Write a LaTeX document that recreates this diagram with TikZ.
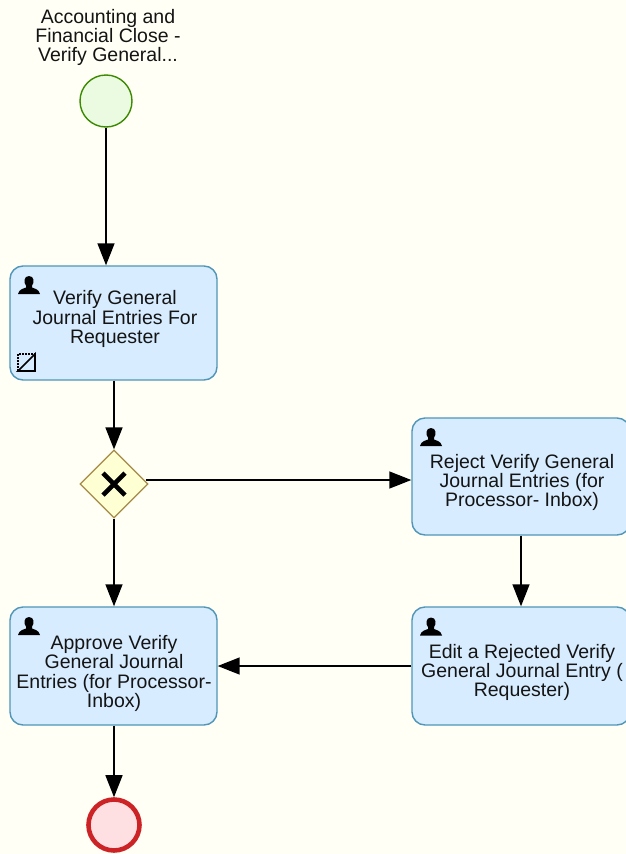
\documentclass[tikz,border=0pt]{standalone}
\usepackage{fontspec}
\setmainfont{Liberation Sans}
\usetikzlibrary{arrows.meta,shapes.geometric}
\definecolor{pagebg}{HTML}{FFFFF5}
\definecolor{taskfill}{HTML}{D7ECFF}
\definecolor{taskline}{HTML}{4F96B8}
\definecolor{gwfill}{HTML}{FFFFD4}
\definecolor{gwline}{HTML}{A48A45}
\definecolor{startfill}{HTML}{EAFBE2}
\definecolor{startline}{HTML}{3C8A00}
\definecolor{endfill}{HTML}{FFE0E2}
\definecolor{endline}{HTML}{CC2326}
\tikzset{
  taskbox/.style={draw=taskline,fill=taskfill,line width=1.4pt,rounded corners=13pt,inner sep=0pt},
  tasktext/.style={align=center,inner sep=0pt,font=\fontsize{19.5}{19.4}\selectfont,text=black!92},
  flow/.style={draw=black,line width=1.5pt,-{Triangle[length=22pt,width=17pt]}},
  usericon/.pic={
    \fill[black] (-11,9) .. controls (-10,4) and (-5,3.5) .. (-3,2.5)
      -- (-3,0.5) .. controls (-5.5,-2) and (-5.5,-9) .. (0,-9)
      .. controls (5.5,-9) and (5.5,-2) .. (3,0.5)
      -- (3,2.5) .. controls (5,3.5) and (10,4) .. (11,9) -- cycle;
  }
}
\begin{document}
\begin{tikzpicture}[x=1pt,y=-1pt]
\useasboundingbox (0,0) rectangle (626,854);
\fill[pagebg] (0,0) rectangle (626,854);
\begin{scope}
\clip (0,0) rectangle (626,854);
\node[taskbox,minimum width=207pt,minimum height=114pt] (t1) at (113.5,323) {};
\node[taskbox,minimum width=218pt,minimum height=117pt] (r1) at (521,476.5) {};
\node[taskbox,minimum width=218pt,minimum height=118pt] (e1) at (521,666) {};
\node[taskbox,minimum width=207pt,minimum height=118pt] (a1) at (113.5,666) {};
\end{scope}
\node[diamond,aspect=1,draw=gwline,fill=gwfill,line width=1.2pt,minimum width=68pt,minimum height=68pt,inner sep=0pt] (gw) at (114,484) {};
\node[circle,draw=startline,fill=startfill,line width=1.4pt,minimum size=52pt,inner sep=0pt] (st) at (106,101) {};
\node[circle,draw=endline,fill=endfill,line width=4.6pt,minimum size=51pt,inner sep=0pt] (en) at (114,825) {};
\draw[black,line width=4.6pt] (103,473) -- (125,495) (125,473) -- (103,495);
\node[align=center,inner sep=0pt,font=\fontsize{19.5}{19}\selectfont,text=black!92] (stl) at (108,37) {Accounting and\\Financial Close -\\Verify General...};
\node[tasktext] (t1t) at (115,319) {Verify General\\Journal Entries For\\Requester};
\node[tasktext] (r1t) at (522,482.5) {Reject Verify General\\Journal Entries (for\\Processor- Inbox)};
\node[tasktext] (e1t) at (522,672.5) {Edit a Rejected Verify\\General Journal Entry (\\Requester)};
\node[tasktext] (a1t) at (114,673.5) {Approve Verify\\General Journal\\Entries (for Processor-\\Inbox)};
\pic at (29,285) {usericon};
\pic at (431,437) {usericon};
\pic at (431,626.5) {usericon};
\pic at (29,626) {usericon};
\draw[black,line width=1.7pt] (35,354) -- (18,371) -- (35,371) -- cycle;
\draw[black,line width=1.6pt,dash pattern=on 1.6pt off 1.4pt] (18,371) -- (18,354) -- (35,354);
\draw[flow] (st.south) -- ([xshift=-7.5pt]t1.north);
\draw[flow] ([xshift=0.5pt]t1.south) -- (gw.north);
\draw[flow] (gw.south) -- ([xshift=0.5pt]a1.north);
\draw[flow] ([xshift=-3pt,yshift=4pt]gw.east) -- ([yshift=-3.5pt]r1.west);
\draw[flow] (r1.south) -- (e1.north);
\draw[flow] (e1.west) -- (a1.east);
\draw[flow] ([xshift=0.5pt]a1.south) -- (en.north);
\end{tikzpicture}
\end{document}
